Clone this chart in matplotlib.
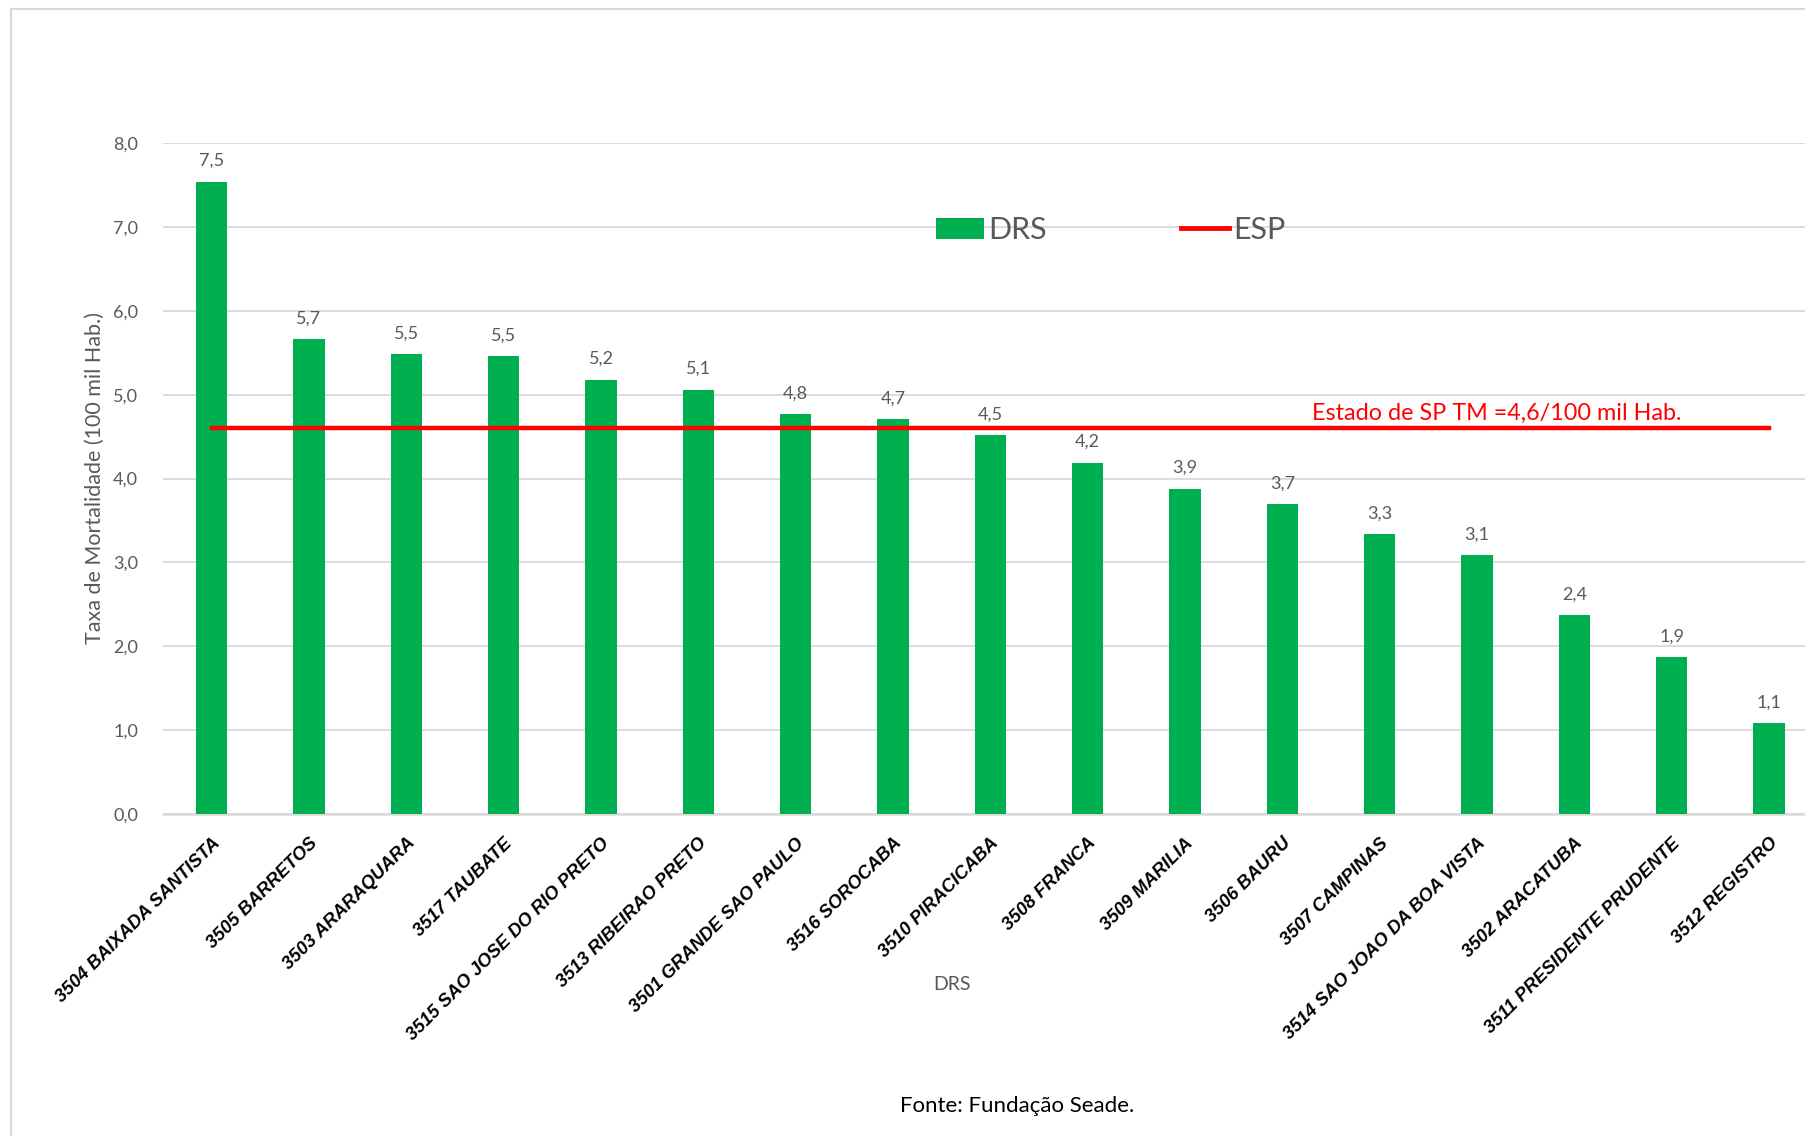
import matplotlib.pyplot as plt
from matplotlib.lines import Line2D
from matplotlib.patches import Rectangle, Patch

regioes = ['3504 BAIXADA SANTISTA', '3505 BARRETOS', '3503 ARARAQUARA', '3517 TAUBATE',
           '3515 SAO JOSE DO RIO PRETO', '3513 RIBEIRAO PRETO', '3501 GRANDE SAO PAULO',
           '3516 SOROCABA', '3510 PIRACICABA', '3508 FRANCA', '3509 MARILIA', '3506 BAURU',
           '3507 CAMPINAS', '3514 SAO JOAO DA BOA VISTA', '3502 ARACATUBA',
           '3511 PRESIDENTE PRUDENTE', '3512 REGISTRO']
taxas = [7.54, 5.66, 5.48, 5.46, 5.18, 5.06, 4.77, 4.71, 4.52, 4.19, 3.88, 3.70,
         3.34, 3.09, 2.37, 1.87, 1.08]
taxa_estado = 4.6
rotulo_estado = 'Estado de SP TM =4,6/100 mil Hab.'
yticks = [0, 1, 2, 3, 4, 5, 6, 7, 8]

VERDE = '#00B050'
VERMELHO = '#FF0000'
CINZA = '#595959'

plt.rcParams['font.family'] = ['Lato', 'DejaVu Sans']

fig = plt.figure(figsize=(18.05, 11.36), dpi=100)
ax = fig.add_axes([163 / 1805, 1 - 814 / 1136, 1 - 163 / 1805, (814 - 143) / 1136])

# moldura da figura
fig.patches.append(Rectangle((11 / 1805, -0.1), 1.2, 1 - 9 / 1136 + 0.1, transform=fig.transFigure,
                             fill=False, edgecolor='#d9d9d9', linewidth=1.5))

x = list(range(len(regioes)))
barras = ax.bar(x, taxas, width=0.32, color=VERDE, zorder=3)
for xi, v in zip(x, taxas):
    ax.annotate(f'{v:.1f}'.replace('.', ','), (xi, v), xytext=(0, 9), textcoords='offset points',
                ha='center', va='bottom', fontsize=13, color=CINZA)

linha, = ax.plot([x[0], x[-1]], [taxa_estado, taxa_estado], color=VERMELHO, linewidth=3.2, zorder=4)
ax.text(13.2, taxa_estado + 0.05, rotulo_estado, color=VERMELHO, fontsize=16.8, ha='center', va='bottom')

ax.set_ylim(0, 8)
ax.set_xlim(-0.5, 16.37)
ax.set_yticks(yticks)
ax.set_yticklabels([f'{t:.1f}'.replace('.', ',') for t in yticks], fontsize=13, color=CINZA)
ax.grid(axis='y', color='#d9d9d9', linewidth=1.3, zorder=0)
ax.set_axisbelow(True)
for s in ['top', 'right', 'left']:
    ax.spines[s].set_visible(False)
ax.spines['bottom'].set_color('#d9d9d9')
ax.spines['bottom'].set_linewidth(1.8)
ax.tick_params(axis='both', length=0)
ax.tick_params(axis='y', pad=18)

ax.set_xticks(x)
ax.set_xticklabels(regioes, rotation=45, ha='right', rotation_mode='anchor',
                   fontsize=13.2, fontweight='bold', fontstyle='italic', color='black',
                   family=['Liberation Sans', 'DejaVu Sans'])
ax.tick_params(axis='x', pad=15)

ax.set_ylabel('Taxa de Mortalidade (100 mil Hab.)', fontsize=15.5, color=CINZA, labelpad=6)
fig.text(952 / 1805, 1 - 984 / 1136, 'DRS', fontsize=14, color=CINZA, ha='center', va='center')
fig.text(1017 / 1805, 1 - 1106 / 1136, 'Fonte: Fundação Seade.', fontsize=16, color='black',
         ha='center', va='center')

handles = [Patch(facecolor=VERDE), Line2D([0], [0], color=VERMELHO, linewidth=3.5)]
ax.legend(handles, ['DRS', 'ESP'], loc='center', bbox_to_anchor=(1111 / 1805, 1 - 230 / 1136),
          bbox_transform=fig.transFigure, ncol=2, frameon=False, fontsize=22,
          labelcolor=CINZA, handlelength=1.55, handletextpad=0.15, columnspacing=4.4)

fig.savefig('out.png', dpi=100)
